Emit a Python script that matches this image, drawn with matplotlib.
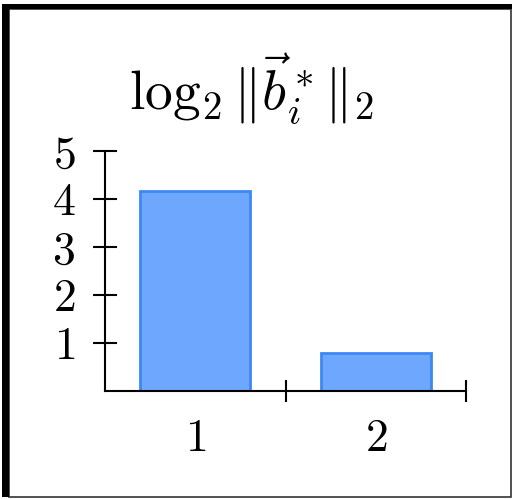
import matplotlib
matplotlib.use("Agg")
import matplotlib.pyplot as plt
from matplotlib.patches import Rectangle
from matplotlib.ticker import FixedLocator

plt.rcParams['mathtext.fontset'] = 'cm'
plt.rcParams['font.family'] = ['cmr10', 'DejaVu Sans']

# log2 of the Gram-Schmidt norms per basis vector
indices = [1, 2]
log_norms = [4.17, 0.79]
index_labels = ['$1$', '$2$']
y_ticks = [1, 2, 3, 4, 5]

W, H = 513, 499
fig = plt.figure(figsize=(W / 100, H / 100), dpi=100)

# frame: heavy top/left edge, thin right/bottom edge
fig.patches.append(Rectangle((9 / W, 1 - 497 / H), 502 / W, 488 / H, transform=fig.transFigure,
                             fill=False, edgecolor='#333333', linewidth=1.2))
fig.patches.append(Rectangle((2 / W, 1 - 497 / H), 7 / W, 493 / H, transform=fig.transFigure,
                             facecolor='black', edgecolor='none'))
fig.patches.append(Rectangle((2 / W, 1 - 9 / H), 510 / W, 5 / H, transform=fig.transFigure,
                             facecolor='black', edgecolor='none'))

ax = fig.add_axes([105 / W, 1 - 391 / H, 361 / W, 240 / H])
ax.bar(indices, log_norms, width=0.61, color='#6ea8fe', edgecolor='#3d88f5', linewidth=2)

ax.set_xlim(0.5, 2.5)
ax.set_ylim(0, 5)
ax.spines['top'].set_visible(False)
ax.spines['right'].set_visible(False)
for s in ('left', 'bottom'):
    ax.spines[s].set_linewidth(1.5)

ax.set_xticks(indices)
ax.set_xticklabels(index_labels)
ax.xaxis.set_minor_locator(FixedLocator([1.5, 2.5]))
ax.tick_params(axis='x', which='major', length=0, pad=20, labelsize=33)
ax.tick_params(axis='x', which='minor', direction='inout', length=16, width=1.5)

ax.set_yticks(y_ticks)
ax.set_yticklabels(['$%d$' % t for t in y_ticks])
ax.tick_params(axis='y', direction='inout', length=17, width=1.5, pad=13, labelsize=33)

fig.text(251 / W, 1 - 110 / H, r'$\log_2\|\vec{b}_i^*\|_2$', fontsize=40,
         ha='center', va='baseline')

fig.savefig('out.png', dpi=100)
